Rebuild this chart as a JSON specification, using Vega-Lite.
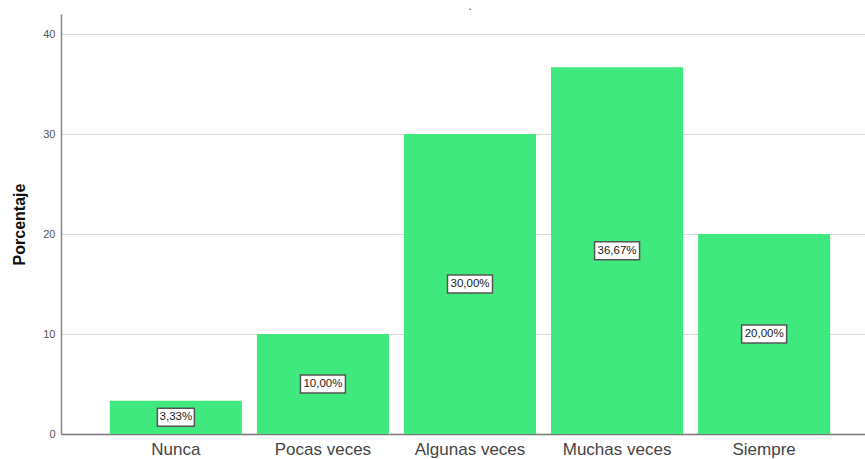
{
  "$schema": "https://vega.github.io/schema/vega-lite/v6.json",
  "autosize": "none",
  "width": 818,
  "height": 420,
  "padding": {"left": 61, "top": 14, "right": 0, "bottom": 25},
  "background": "white",
  "title": {"text": ".", "fontSize": 9, "color": "#555", "offset": 2, "anchor": "middle", "frame": "group"},
  "data": {
    "values": [
      {"categoria": "Nunca", "porcentaje": 3.33, "etiqueta": "3,33%"},
      {"categoria": "Pocas veces", "porcentaje": 10.0, "etiqueta": "10,00%"},
      {"categoria": "Algunas veces", "porcentaje": 30.0, "etiqueta": "30,00%"},
      {"categoria": "Muchas veces", "porcentaje": 36.67, "etiqueta": "36,67%"},
      {"categoria": "Siempre", "porcentaje": 20.0, "etiqueta": "20,00%"}
    ]
  },
  "config": {
    "view": {"stroke": null},
    "font": "Liberation Sans"
  },
  "encoding": {
    "x": {
      "field": "categoria",
      "type": "nominal",
      "sort": null,
      "scale": {"paddingInner": 0.102, "paddingOuter": 0.332},
      "axis": {
        "title": null,
        "labelAngle": 0,
        "labelFontSize": 17,
        "labelColor": "#444",
        "labelPadding": 7,
        "ticks": false,
        "domainColor": "#777",
        "domainWidth": 1.5,
        "grid": false
      }
    }
  },
  "layer": [
    {
      "mark": {"type": "bar", "color": "#40E97D"},
      "encoding": {
        "y": {
          "field": "porcentaje",
          "type": "quantitative",
          "scale": {"domain": [0, 42], "nice": false},
          "axis": {
            "title": "Porcentaje",
            "titleFontSize": 16,
            "titleFontWeight": "bold",
            "titleColor": "#111",
            "titlePadding": 15,
            "values": [0, 10, 20, 30, 40],
            "labelFontSize": 11,
            "labelColor": "#555",
            "labelPadding": 6,
            "ticks": false,
            "domainColor": "#888",
            "domainWidth": 1.5,
            "gridColor": "#d9d9d9",
            "gridWidth": 1
          }
        }
      }
    },
    {
      "transform": [{"calculate": "datum.porcentaje / 2", "as": "mitad"}],
      "mark": {"type": "point", "filled": true, "fill": "white", "stroke": "#555", "strokeWidth": 1.5, "size": 4, "opacity": 1},
      "encoding": {
        "y": {"field": "mitad", "type": "quantitative"},
        "shape": {
          "condition": {"test": "length(datum.etiqueta) > 5", "value": "M-22.5,-9H22.5V9H-22.5Z"},
          "value": "M-18.5,-9H18.5V9H-18.5Z"
        }
      }
    },
    {
      "transform": [{"calculate": "datum.porcentaje / 2", "as": "mitad"}],
      "mark": {"type": "text", "fontSize": 11.5, "color": "#222", "baseline": "middle", "align": "center"},
      "encoding": {
        "y": {"field": "mitad", "type": "quantitative"},
        "text": {"field": "etiqueta"}
      }
    }
  ]
}
